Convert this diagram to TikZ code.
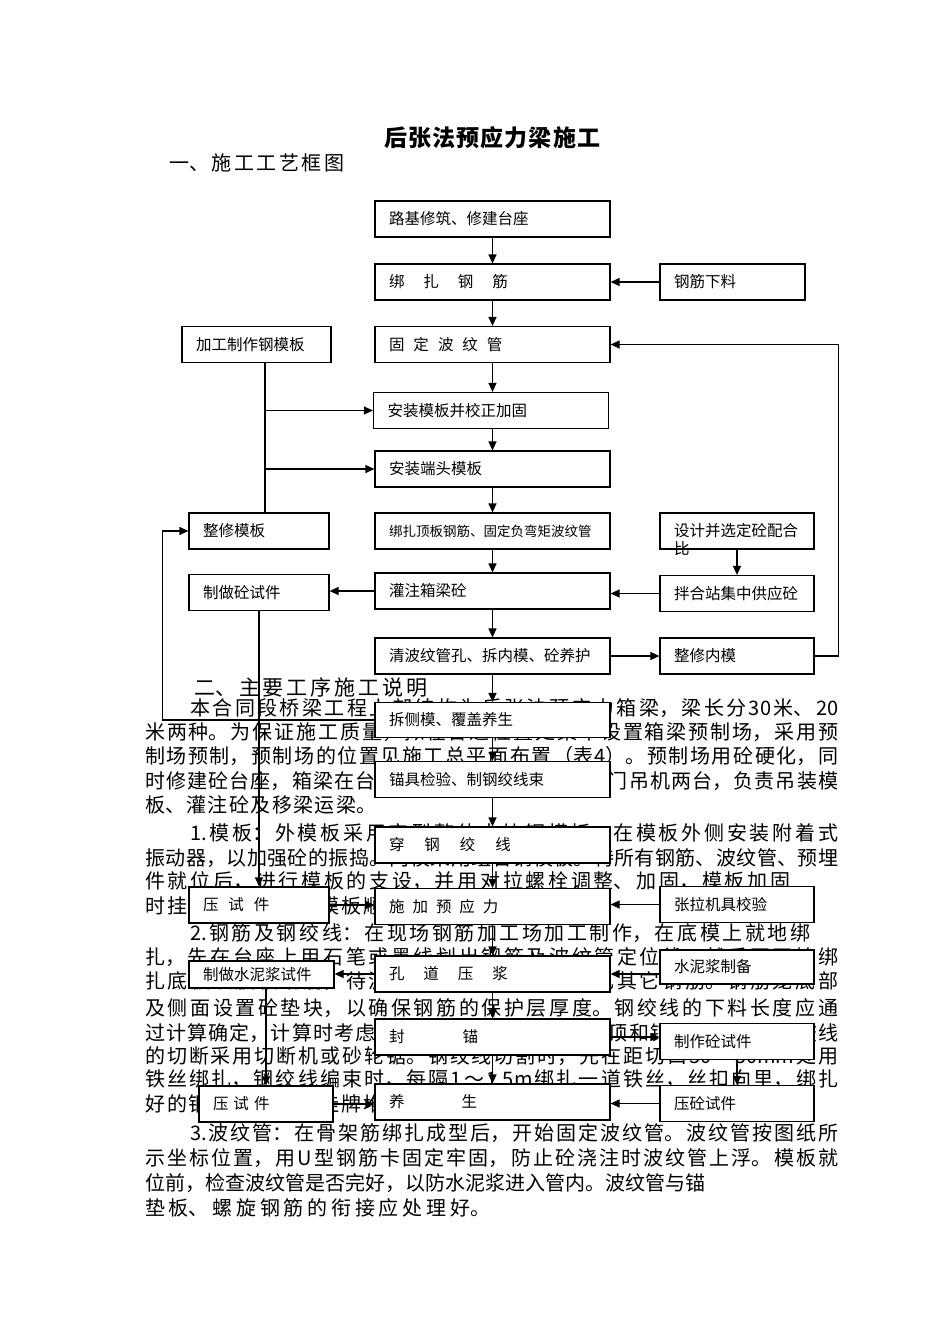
\documentclass[tikz,border=0pt]{standalone}
\usepackage{fontspec}
\setmainfont{Noto Sans CJK SC}
\usetikzlibrary{arrows.meta}
\XeTeXlinebreaklocale "zh"
\XeTeXlinebreakskip=0pt
\newcommand{\txtline}[4]{%
  \node[txt] (#1) at (#2) {\parbox{#3pt}{\XeTeXlinebreakskip=0pt plus 1fil\parfillskip=0pt\relax #4}};}

\begin{document}
\begin{tikzpicture}[x=1pt, y=-1pt,
      txt/.style={anchor=west, inner sep=0pt, font=\fontsize{20}{24}\selectfont},
      box/.style={draw, fill=white, line width=1.2pt, minimum height=36pt,
                  inner xsep=14pt, inner ysep=0pt, text width=#1, align=left,
                  font=\fontsize{15.5}{18}\selectfont},
      arr/.style={-{Triangle[length=9pt, width=8pt]}, line width=1.2pt},
      ln/.style={line width=1.2pt}]
    \useasboundingbox (0,0) rectangle (950,1344);
    \txtline{title}{384,138}{216}{\fontsize{23}{28}\selectfont\bfseries 后张法预应力梁施工}
    \txtline{head1}{169,163}{175}{一、施工工艺框图}
    \txtline{head2}{194,688}{233}{\fontsize{21}{25}\selectfont 二、主要工序施工说明}
    \txtline{p1a}{190,708}{648}{本合同段桥梁工程上部结构为后张法预应力箱梁，梁长分30米、20}
    \txtline{p1b}{145,732}{693}{米两种。为保证施工质量，拟在合适位置处集中设置箱梁预制场，采用预}
    \txtline{p1c}{145,756}{693}{制场预制，预制场的位置见施工总平面布置（表4）。预制场用砼硬化，同}
    \txtline{p1d}{145,781}{693}{时修建砼台座，箱梁在台座上预制。预制场内设龙门吊机两台，负责吊装模}
    \txtline{p1e}{145,805}{231}{板、灌注砼及移梁运梁。}
    \txtline{p2a}{190,833}{648}{1.模板：外模板采用定型整体大块钢模板，在模板外侧安装附着式}
    \txtline{p2b}{145,858}{693}{振动器，以加强砼的振捣。内模采用组合钢模板。待所有钢筋、波纹管、预埋}
    \txtline{p2c}{145,881}{645}{件就位后，进行模板的支设，并用对拉螺栓调整、加固，模板加固}
    \txtline{p2d}{145,906}{280}{时挂线调整，以使模板顺直。}
    \txtline{p3a}{190,933}{620}{2.钢筋及钢绞线：在现场钢筋加工场加工制作，在底模上就地绑}
    \txtline{p3b}{145,957}{693}{扎，先在台座上用石笔或墨线划出钢筋及波纹管定位线，然后再开始绑}
    \txtline{p3c}{145,981}{693}{扎底板及腹板钢筋，待波纹管安装定位后再绑扎其它钢筋。钢筋笼底部}
    \txtline{p3d}{145,1008}{693}{及侧面设置砼垫块，以确保钢筋的保护层厚度。钢绞线的下料长度应通}
    \txtline{p3e}{145,1033}{693}{过计算确定，计算时考虑孔道长度、张拉端的千斤顶和锚具长度等，钢绞线}
    \txtline{p3f}{145,1056}{693}{的切断采用切断机或砂轮锯。钢绞线切割时，先在距切口30～50mm处用}
    \txtline{p3g}{145,1079}{693}{铁丝绑扎，钢绞线编束时，每隔1～1.5m绑扎一道铁丝，丝扣向里，绑扎}
    \txtline{p3h}{145,1104}{280}{好的钢绞线束分类挂牌堆放。}
    \txtline{p4a}{190,1133}{648}{3.波纹管：在骨架筋绑扎成型后，开始固定波纹管。波纹管按图纸所}
    \txtline{p4b}{145,1158}{693}{示坐标位置，用U型钢筋卡固定牢固，防止砼浇注时波纹管上浮。模板就}
    \txtline{p4c}{145,1183}{560}{位前，检查波纹管是否完好，以防水泥浆进入管内。波纹管与锚}
    \txtline{p4d}{145,1208}{345}{垫板、螺旋钢筋的衔接应处理好。}
    \node[box=207pt] (lj)    at (492.5, 219)   {路基修筑、修建台座};
    \node[box=207pt] (bzgj)  at (492.5, 282)   {绑\hspace{19pt}扎\hspace{19pt}钢\hspace{19pt}筋};
    \node[box=117pt] (gjxl)  at (732.5, 282)   {钢筋下料};
    \node[box=207pt] (gdbwg) at (492.5, 344.5) {固\hspace{9pt}定\hspace{9pt}波\hspace{9pt}纹\hspace{9pt}管};
    \node[box=121pt] (jgmb)  at (256.5, 344.5) {加工制作钢模板};
    \node[box=207pt] (azmb)  at (491, 410.5)   {安装模板并校正加固};
    \node[box=207pt] (azdt)  at (492.5, 469)   {安装端头模板};
    \node[box=207pt] (bzdb)  at (492.5, 531)   {\fontsize{13.5}{16}\selectfont 绑扎顶板钢筋、固定负弯矩波纹管};
    \node[box=112pt] (zxmb)  at (259, 531)     {整修模板};
    \node[box=126pt] (sjpb)  at (737, 531)     {\smash{\raisebox{-5pt}{\parbox[t]{126pt}{设计并选定砼配合\\比}}}};
    \node[box=207pt] (gz)    at (492.5, 591)   {灌注箱梁砼};
    \node[box=112pt] (zzsj)  at (259, 592.5)   {制做砼试件};
    \node[box=126pt] (bhz)   at (737, 593.5)   {拌合站集中供应砼};
    \node[box=207pt] (qbw)   at (492.5, 656)   {清波纹管孔、拆内模、砼养护};
    \node[box=126pt] (zxnm)  at (737, 656)     {整修内模};
    \node[box=207pt, minimum height=35pt] (ccm) at (492.5, 720) {拆侧模、覆盖养生};
    \node[box=207pt] (mjjy)  at (492.5, 779.5) {锚具检验、制钢绞线束};
    \node[box=207pt] (cgjx)  at (492.5, 845)   {穿\hspace{20pt}钢\hspace{20pt}绞\hspace{20pt}线};
    \node[box=207pt] (sjyyl) at (492.5, 906.5) {施\hspace{8pt}加\hspace{8pt}预\hspace{8pt}应\hspace{8pt}力};
    \node[box=112pt] (ysj1)  at (259, 905)     {压\hspace{10pt}试\hspace{10pt}件};
    \node[box=126pt] (zljj)  at (737, 904.5)   {张拉机具校验};
    \node[box=207pt] (kdyj)  at (492.5, 974)   {孔\hspace{19pt}道\hspace{19pt}压\hspace{19pt}浆};
    \node[box=117pt, minimum height=27pt] (zzsnj) at (261.5, 974.5) {制做水泥浆试件};
    \node[box=126pt, minimum height=34pt] (snjzb) at (737, 967) {水泥浆制备};
    \node[box=207pt] (fm)    at (492.5, 1037)  {封\hspace{58pt}锚};
    \node[box=126pt] (zzts)  at (737, 1041.5)  {制作砼试件};
    \node[box=207pt] (ys)    at (492.5, 1102)  {养\hspace{57pt}生};
    \node[box=106pt] (ysj2)  at (266, 1104)    {压\hspace{5pt}试\hspace{5pt}件};
    \node[box=126pt] (yts)   at (737, 1103.5)  {压砼试件};
    \draw[arr] (lj) -- (bzgj);
    \draw[arr] (gjxl) -- (bzgj);
    \draw[arr] (bzgj) -- (gdbwg);
    \draw[arr] (gdbwg.south) -- (gdbwg.south |- azmb.north);
    \draw[arr] (azmb.south -| azdt) -- (azdt.north);
    \draw[arr] (azdt) -- (bzdb);
    \draw[arr] (bzdb) -- (gz);
    \draw[arr] (gz) -- (qbw);
    \draw[arr] (qbw) -- (ccm);
    \draw[arr] (ccm) -- (mjjy);
    \draw[arr] (mjjy) -- (cgjx);
    \draw[arr] (cgjx) -- (sjyyl);
    \draw[arr] (sjyyl) -- (kdyj);
    \draw[arr] (kdyj) -- (fm);
    \draw[arr] (fm) -- (ys);
    \draw[ln]  ([xshift=8.5pt]jgmb.south) -- ([xshift=8.5pt]jgmb.south |- zxmb.north);
    \draw[arr] ([xshift=8.5pt]jgmb.south |- azmb.west) -- (azmb.west);
    \draw[arr] ([xshift=8.5pt]jgmb.south |- azdt.west) -- (azdt.west);
    \draw[arr] (ccm.west) -- ++(-212,0) |- (zxmb.west);
    \draw[arr] (qbw) -- (zxnm);
    \draw[arr] (zxnm.east) -- ++(24,0) |- (gdbwg.east);
    \draw[arr] (sjpb) -- (bhz);
    \draw[arr] (bhz.west) -- (bhz.west -| gz.east);
    \draw[arr] (gz.west) -- (gz.west -| zzsj.east);
    \draw[arr] (zzsj.south) -- (zzsj.south |- ysj1.north);
    \draw[arr] (ysj1.east) -- (ysj1.east -| sjyyl.west);
    \draw[arr] (zljj.west) -- (zljj.west -| sjyyl.east);
    \draw[arr] (kdyj.west) -- (kdyj.west -| zzsnj.east);
    \draw[arr] (kdyj.east -| snjzb.west) -- (kdyj.east);
    \draw[arr] (zzsnj.south -| ysj2.north) -- (ysj2.north);
    \draw[arr] (ysj2.east) -- (ysj2.east -| ys.west);
    \draw[arr] (fm.east) -- (fm.east -| zzts.west);
    \draw[arr] (zzts) -- (yts);
    \draw[arr] (yts.west) -- (yts.west -| ys.east);
  \end{tikzpicture}
\end{document}
